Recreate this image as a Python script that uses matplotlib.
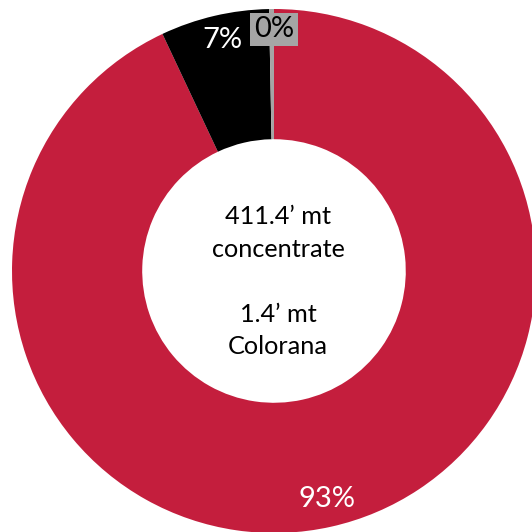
import matplotlib
matplotlib.use("Agg")
import matplotlib.pyplot as plt

# Share of output by product (%)
categories = ["Concentrate", "Other", "Colorana"]
shares = [93.0, 6.7, 0.3]
colors = ["#C41E3D", "#000000", "#A5A5A5"]
label_colors = ["white", "white", "black"]
center_text = "411.4\u2019 mt\nconcentrate\n\n1.4\u2019 mt\nColorana"

W = H = 532
CX, CY, R = 274, 271, 262  # donut centre and outer radius in pixels


def to_data(px, py):
    return (px - CX) / R, (CY - py) / R


fig = plt.figure(figsize=(W / 100, H / 100), dpi=100)
fig.patch.set_facecolor("white")
ax = fig.add_axes([0, 0, 1, 1])

wedges, _ = ax.pie(
    shares,
    colors=colors,
    startangle=90,
    counterclock=False,
    radius=1.0,
    wedgeprops=dict(width=0.497, linewidth=0),
)
ax.set_xlim(-CX / R, (W - CX) / R)
ax.set_ylim(-(H - CY) / R, CY / R)
ax.set_aspect("equal")
ax.axis("off")

font = ["Lato", "DejaVu Sans"]
label_pos = [(327, 499), (222, 40), (274, 29)]
for share, pos, col in zip(shares, label_pos, label_colors):
    x, y = to_data(*pos)
    kw = dict(ha="center", va="center", fontsize=21, color=col, family=font)
    if col == "black":
        kw["bbox"] = dict(boxstyle="square,pad=0.12", facecolor="#A5A5A5", edgecolor="none")
    ax.text(x, y, f"{round(share)}%", **kw)

x, y = to_data(278, 282)
ax.text(x, y, center_text, ha="center", va="center", fontsize=18.2,
        color="black", family=font, linespacing=1.5)

fig.savefig("out.png", dpi=100, facecolor="white")
